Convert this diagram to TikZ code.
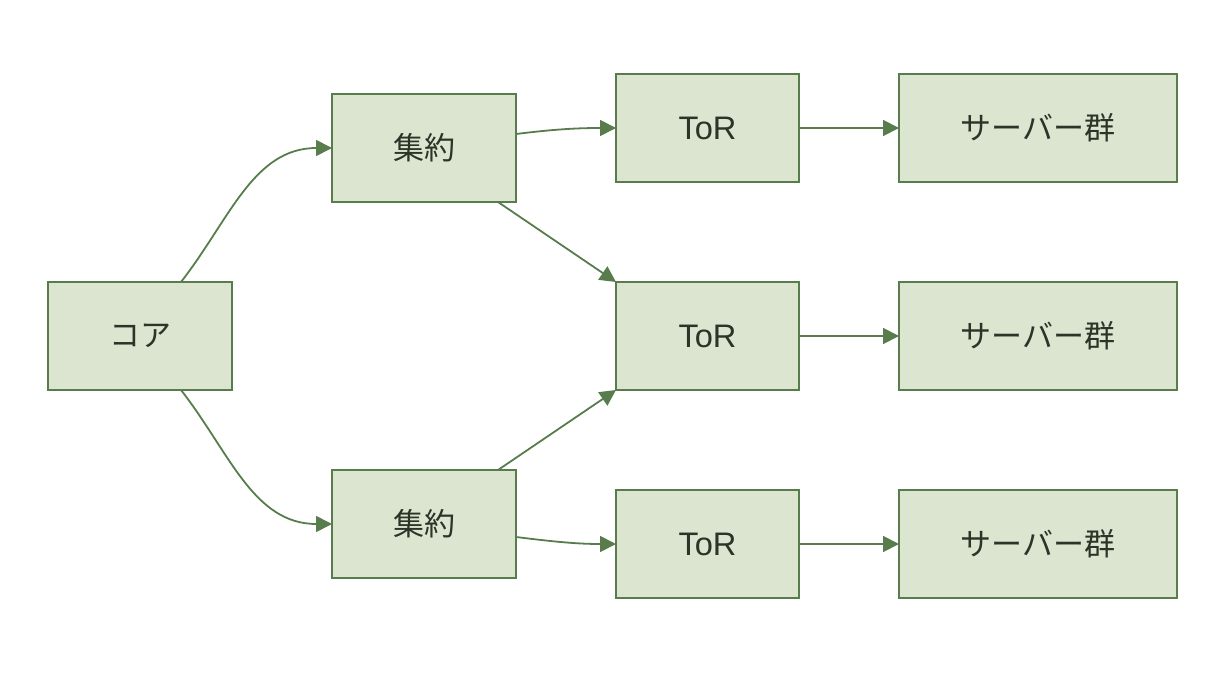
\documentclass[tikz,border=0pt]{standalone}
\usepackage{fontspec}
\setmainfont{Noto Sans CJK JP}
\newfontfamily\latinfont{Liberation Sans}
\usepackage{tikz}
\usetikzlibrary{arrows.meta,positioning,calc}
\definecolor{leaf}{HTML}{DCE5CF}
\definecolor{moss}{HTML}{587C4C}
\definecolor{ink}{HTML}{2C3328}

\begin{document}
\begin{tikzpicture}[
  x=0.5pt,y=0.5pt,
  node distance=50pt,
  tier/.style={draw=moss,line width=1pt,outer sep=0pt,fill=leaf,text=ink,minimum width=92pt,minimum height=54pt,font=\fontsize{15.5}{18}\selectfont},
  switch/.style={tier,minimum width=91.5pt,font=\latinfont\fontsize{16.3}{18}\selectfont},
  wide/.style={tier,minimum width=139pt},
  link/.style={-{Triangle[length=8pt,width=8pt]},line width=0.9pt,draw=moss}
]
  \useasboundingbox (0,0) rectangle (1224,676);
  \node[tier] (core) at (140,340) {コア};
  \node[tier,right=of core,yshift=94pt] (agg1) {集約};
  \node[tier,right=of core,yshift=-94pt] (agg2) {集約};
  \node[switch,right=of agg1,yshift=10pt] (tor1) {ToR};
  \node[switch,below=of tor1] (tor2) {ToR};
  \node[switch,below=of tor2] (tor3) {ToR};
  \node[wide,right=of tor1] (srv1) {サーバー群};
  \node[wide,right=of tor2] (srv2) {サーバー群};
  \node[wide,right=of tor3] (srv3) {サーバー群};
  \draw[link] ($(core.north)+(20.5pt,0)$) to[out=52,in=180] (agg1.west);
  \draw[link] ($(core.south)+(20.5pt,0)$) to[out=-52,in=180] (agg2.west);
  \draw[link] ($(agg1.east)+(0,7pt)$) to[out=7,in=180] (tor1.west);
  \draw[link] ($(agg1.south)+(37pt,0)$) -- (tor2.north west);
  \draw[link] ($(agg2.north)+(37pt,0)$) -- (tor2.south west);
  \draw[link] ($(agg2.east)+(0,-6.5pt)$) to[out=-7,in=180] (tor3.west);
  \draw[link] (tor1) -- (srv1);
  \draw[link] (tor2) -- (srv2);
  \draw[link] (tor3) -- (srv3);
\end{tikzpicture}
\end{document}
